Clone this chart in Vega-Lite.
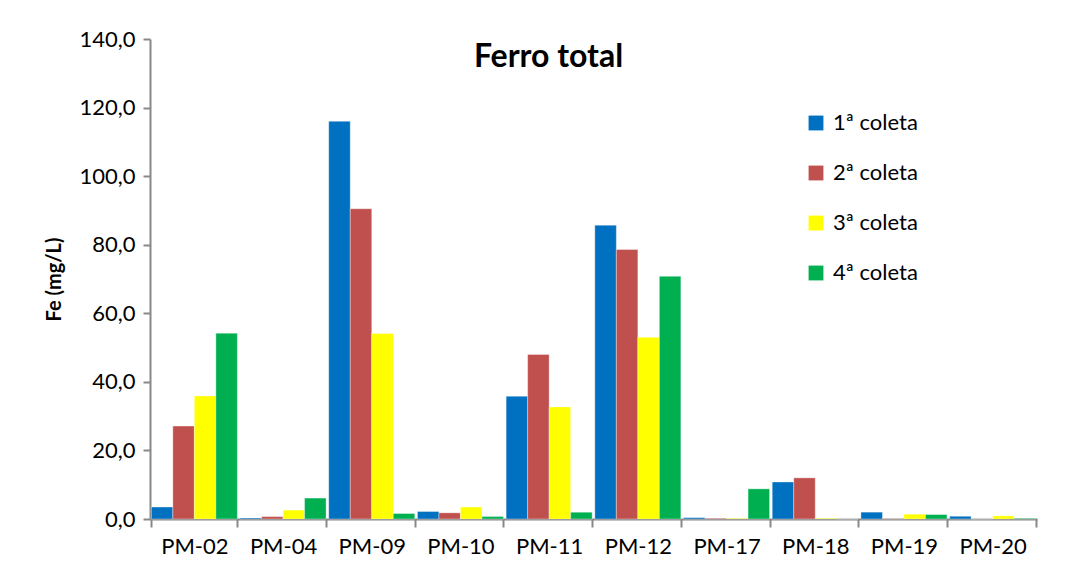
{
  "$schema": "https://vega.github.io/schema/vega-lite/v6.json",
  "width": 887,
  "height": 480,
  "autosize": {"type": "none"},
  "padding": {"left": 150, "top": 39, "right": 43, "bottom": 61},
  "background": "white",
  "title": {"text": "Ferro total", "font": "Lato", "fontSize": 32, "fontWeight": "bold", "color": "#000000", "anchor": "middle", "offset": -46, "dx": -45},
  "data": {"values": [
    {"ponto": "PM-02", "coleta": "1ª coleta", "valor": 3.5},
    {"ponto": "PM-02", "coleta": "2ª coleta", "valor": 27.1},
    {"ponto": "PM-02", "coleta": "3ª coleta", "valor": 35.9},
    {"ponto": "PM-02", "coleta": "4ª coleta", "valor": 54.2},
    {"ponto": "PM-04", "coleta": "1ª coleta", "valor": 0.3},
    {"ponto": "PM-04", "coleta": "2ª coleta", "valor": 0.7},
    {"ponto": "PM-04", "coleta": "3ª coleta", "valor": 2.6},
    {"ponto": "PM-04", "coleta": "4ª coleta", "valor": 6.1},
    {"ponto": "PM-09", "coleta": "1ª coleta", "valor": 116.0},
    {"ponto": "PM-09", "coleta": "2ª coleta", "valor": 90.5},
    {"ponto": "PM-09", "coleta": "3ª coleta", "valor": 54.1},
    {"ponto": "PM-09", "coleta": "4ª coleta", "valor": 1.6},
    {"ponto": "PM-10", "coleta": "1ª coleta", "valor": 2.2},
    {"ponto": "PM-10", "coleta": "2ª coleta", "valor": 1.8},
    {"ponto": "PM-10", "coleta": "3ª coleta", "valor": 3.5},
    {"ponto": "PM-10", "coleta": "4ª coleta", "valor": 0.7},
    {"ponto": "PM-11", "coleta": "1ª coleta", "valor": 35.8},
    {"ponto": "PM-11", "coleta": "2ª coleta", "valor": 48.0},
    {"ponto": "PM-11", "coleta": "3ª coleta", "valor": 32.7},
    {"ponto": "PM-11", "coleta": "4ª coleta", "valor": 2.0},
    {"ponto": "PM-12", "coleta": "1ª coleta", "valor": 85.7},
    {"ponto": "PM-12", "coleta": "2ª coleta", "valor": 78.6},
    {"ponto": "PM-12", "coleta": "3ª coleta", "valor": 53.0},
    {"ponto": "PM-12", "coleta": "4ª coleta", "valor": 70.8},
    {"ponto": "PM-17", "coleta": "1ª coleta", "valor": 0.4},
    {"ponto": "PM-17", "coleta": "2ª coleta", "valor": 0.2},
    {"ponto": "PM-17", "coleta": "3ª coleta", "valor": 0.2},
    {"ponto": "PM-17", "coleta": "4ª coleta", "valor": 8.8},
    {"ponto": "PM-18", "coleta": "1ª coleta", "valor": 10.8},
    {"ponto": "PM-18", "coleta": "2ª coleta", "valor": 12.0},
    {"ponto": "PM-18", "coleta": "3ª coleta", "valor": 0.2},
    {"ponto": "PM-18", "coleta": "4ª coleta", "valor": 0.0},
    {"ponto": "PM-19", "coleta": "1ª coleta", "valor": 2.0},
    {"ponto": "PM-19", "coleta": "2ª coleta", "valor": 0.1},
    {"ponto": "PM-19", "coleta": "3ª coleta", "valor": 1.4},
    {"ponto": "PM-19", "coleta": "4ª coleta", "valor": 1.3},
    {"ponto": "PM-20", "coleta": "1ª coleta", "valor": 0.8},
    {"ponto": "PM-20", "coleta": "2ª coleta", "valor": 0.0},
    {"ponto": "PM-20", "coleta": "3ª coleta", "valor": 0.9},
    {"ponto": "PM-20", "coleta": "4ª coleta", "valor": 0.2}
  ]},
  "mark": {"type": "bar", "stroke": "white", "strokeOpacity": 0.35, "strokeWidth": 1},
  "encoding": {
    "x": {
      "field": "ponto", "type": "nominal", "sort": null,
      "scale": {"paddingInner": 0.03, "paddingOuter": 0.015},
      "axis": {"title": null, "labelAngle": 0, "labelFont": "Lato", "labelFontSize": 22, "labelColor": "#000000", "labelPadding": 9,
               "domainColor": "#888888", "domainWidth": 2, "tickColor": "#888888", "tickWidth": 2, "tickSize": 8, "tickBand": "extent"}
    },
    "xOffset": {"field": "coleta", "type": "nominal", "sort": ["1ª coleta", "2ª coleta", "3ª coleta", "4ª coleta"]},
    "y": {
      "field": "valor", "type": "quantitative",
      "scale": {"domain": [0, 140], "nice": false},
      "axis": {"title": "Fe (mg/L)", "titleFont": "Lato", "titleFontSize": 20, "titleFontWeight": "bold", "titleColor": "#000000", "titlePadding": 14,
               "values": [0, 20, 40, 60, 80, 100, 120, 140],
               "labelExpr": "replace(format(datum.value, '.1f'), '.', ',')",
               "labelFont": "Lato", "labelFontSize": 22, "labelColor": "#000000", "labelPadding": 8,
               "grid": false, "domainColor": "#888888", "domainWidth": 2, "tickColor": "#888888", "tickWidth": 2, "tickSize": 7}
    },
    "color": {
      "field": "coleta", "type": "nominal",
      "scale": {"domain": ["1ª coleta", "2ª coleta", "3ª coleta", "4ª coleta"], "range": ["#0070C0", "#C0504D", "#FFFF00", "#00B050"]},
      "legend": {"title": null, "orient": "none", "legendX": 655, "legendY": 73, "symbolType": "square", "symbolSize": 220, "symbolStrokeWidth": 0,
                 "labelFont": "Lato", "labelFontSize": 22, "labelColor": "#000000", "rowPadding": 28, "labelOffset": 6}
    }
  },
  "config": {"view": {"stroke": null}}
}
